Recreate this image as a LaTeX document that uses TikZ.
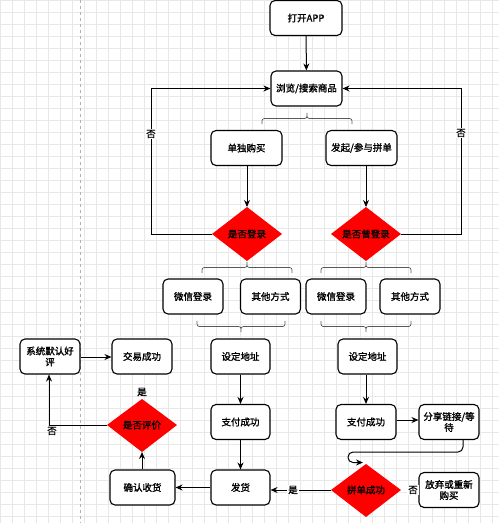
\documentclass[tikz,border=0pt]{standalone}
\usepackage{fontspec}
\setmainfont{Liberation Sans}
\newfontfamily\cjk[FakeBold=1.5]{Noto Sans CJK SC}
\usetikzlibrary{arrows.meta}
\newcommand{\mybraceup}[3]{% x1 x2 yb, tip up
  \draw[bracestyle] (#1,#3) .. controls (#1,#3-5.5) .. (#1+5,#3-5.5) -- ({(#1+#2)/2-5},#3-5.5) .. controls ({(#1+#2)/2},#3-5.5) .. ({(#1+#2)/2},#3-11) .. controls ({(#1+#2)/2},#3-5.5) .. ({(#1+#2)/2+5},#3-5.5) -- (#2-5,#3-5.5) .. controls (#2,#3-5.5) .. (#2,#3);}
\newcommand{\mybracedown}[3]{% x1 x2 yt, tip down
  \draw[bracestyle] (#1,#3) .. controls (#1,#3+5.5) .. (#1+5,#3+5.5) -- ({(#1+#2)/2-5},#3+5.5) .. controls ({(#1+#2)/2},#3+5.5) .. ({(#1+#2)/2},#3+11) .. controls ({(#1+#2)/2},#3+5.5) .. ({(#1+#2)/2+5},#3+5.5) -- (#2-5,#3+5.5) .. controls (#2,#3+5.5) .. (#2,#3);}
\begin{document}
\begin{tikzpicture}[x=1pt,y=-1pt,
  font=\cjk\fontsize{9.5}{11}\selectfont,
  box/.style={draw=black,line width=1.1pt,rounded corners=5pt,fill=white,minimum width=#1,minimum height=35pt,inner sep=1pt,align=center},
  box/.default=60pt,
  arr/.style={-{Stealth[length=7pt,width=6pt]},line width=1pt},
  lbl/.style={fill=white,inner sep=1pt},
  bracestyle/.style={draw=black!65,line width=0.7pt}
]
\useasboundingbox (0,0) rectangle (499,523);
\fill[white] (0,0) rectangle (499,523);
\draw[black!9,line width=0.4pt] (0,0) grid[step=12pt] (499,523);
\draw[black!30,dashed,line width=0.6pt] (80,0) -- (80,523);

% nodes
\node[box=72pt] (app) at (306,18) {打开APP};
\node[box=71pt] (browse) at (306.5,88.5) {浏览/搜索商品};
\node[box=71pt] (solo) at (246.5,148) {单独购买};
\node[box=71pt] (group) at (361.5,148) {发起/参与拼单};

\fill[red] (212,234) -- (247,207) -- (282,234) -- (247,261) -- cycle;
\node (d1) at (247,234) {是否登录};
\coordinate (d1t) at (247,207);
\coordinate (d1l) at (212,234);
\fill[red] (331,234) -- (366,207) -- (401,234) -- (366,261) -- cycle;
\node (d2) at (366,234) {是否曾登录};
\coordinate (d2t) at (366,207);
\coordinate (d2r) at (401,234);

\node[box] (wx1) at (193,296.5) {微信登录};
\node[box] (ot1) at (270.5,296.5) {其他方式};
\node[box] (wx2) at (336,296.5) {微信登录};
\node[box] (ot2) at (410,296.5) {其他方式};

\node[box=59pt] (addr1) at (240.5,356.5) {设定地址};
\node[box=59pt] (addr2) at (367.5,356.5) {设定地址};
\node[box=59pt] (pay1) at (240.5,422) {支付成功};
\node[box=60pt] (pay2) at (366,422) {支付成功};
\node[box] (share) at (449,422) {分享链接/等\\待};
\node[box=59pt] (ship) at (240.5,487.5) {发货};
\node[box=65pt] (recv) at (142.5,487.5) {确认收货};
\node[box] (auto) at (50,356.5) {系统默认好\\评};
\node[box] (deal) at (142,356.5) {交易成功};
\node[box] (quit) at (449,490) {放弃或重新\\购买};

\fill[red] (107,425) -- (142,399) -- (177,425) -- (142,452) -- cycle;
\node (d3) at (142,425) {是否评价};
\coordinate (d3b) at (142,452);
\coordinate (d3l) at (107,425);
\fill[red] (331,490) -- (366,464) -- (401,490) -- (366,517) -- cycle;
\node (d4) at (366,490) {拼单成功};
\coordinate (d4l) at (331,490);

% braces
\mybraceup{262}{352}{124}
\mybraceup{202}{292}{273}
\mybraceup{321}{411}{273}
\mybracedown{197}{285}{321}
\mybracedown{321}{411}{321}

% connectors
\draw[arr] (app) -- (browse);
\draw[arr] (solo.south -| d1t) -- (d1t);
\draw[arr] (group.south -| d2t) -- (d2t);
\draw[arr] (d1l) -- (151,234) -- (151,88.5) -- (browse.west);
\node[lbl] (no1) at (151,134) {否};
\draw[arr] (d2r) -- (461,234) -- (461,88.5) -- (browse.east);
\node[lbl] (no2) at (461,133) {否};

\draw[arr] (addr1) -- (pay1);
\draw[arr] (addr2.south -| pay2) -- (pay2);
\draw[arr] (pay1) -- (ship);
\draw[arr] (pay2.east |- 0,420) -- (share.west |- 0,420);
\draw[arr,rounded corners=5pt] (share.south -| 463,0) -- (463,452) -- (348,452) -- (348,462.5) -- (363,462.5);
\draw[arr] (d4l) -- (ship.east |- d4l);
\node[lbl] (yes1) at (293,490) {是};
\node[lbl] (no4) at (413,490) {否};
\draw[arr] (ship) -- (recv);
\draw[arr] (recv.north -| d3b) -- (d3b);
\node (yes2) at (142,392) {是};
\draw[arr] (d3l) -- (49,425) -- (auto.south -| 49,0);
\node (no3) at (52,431) {否};
\draw[arr] (auto.east |- 0,357) -- (deal.west |- 0,357);
\end{tikzpicture}
\end{document}
